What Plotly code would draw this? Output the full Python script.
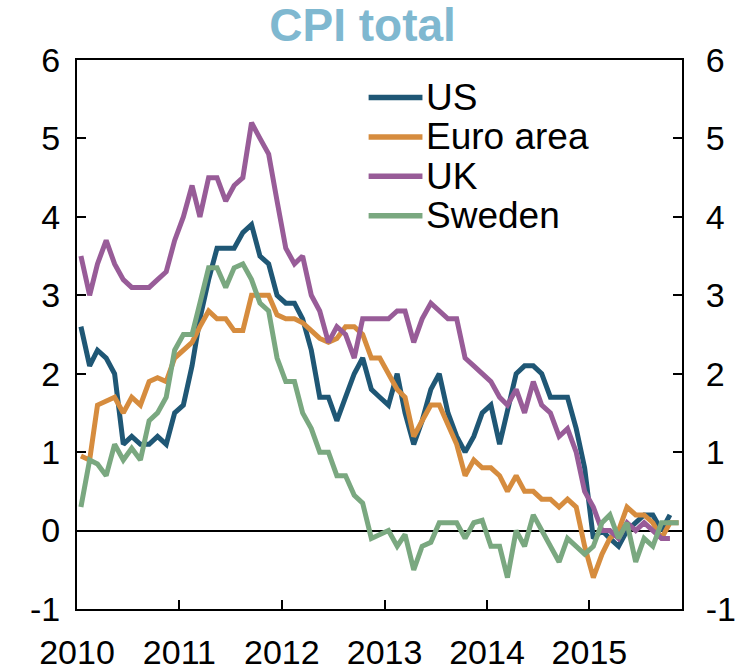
import plotly.graph_objects as go
import pandas as pd

# Monthly observations, Jan 2010 onwards (annual % change)
us = [2.6, 2.1, 2.3, 2.2, 2.0, 1.1, 1.2, 1.1, 1.1, 1.2, 1.1, 1.5,
      1.6, 2.1, 2.7, 3.2, 3.6, 3.6, 3.6, 3.8, 3.9, 3.5, 3.4, 3.0,
      2.9, 2.9, 2.7, 2.3, 1.7, 1.7, 1.4, 1.7, 2.0, 2.2, 1.8, 1.7,
      1.6, 2.0, 1.5, 1.1, 1.4, 1.8, 2.0, 1.5, 1.2, 1.0, 1.2, 1.5,
      1.6, 1.1, 1.5, 2.0, 2.1, 2.1, 2.0, 1.7, 1.7, 1.7, 1.3, 0.8,
      -0.1, 0.0, -0.1, -0.2, 0.0, 0.1, 0.2, 0.2, 0.0, 0.2]
euro_area = [0.95, 0.9, 1.6, 1.65, 1.7, 1.5, 1.7, 1.6, 1.9, 1.95, 1.9, 2.2,
             2.3, 2.4, 2.6, 2.8, 2.7, 2.7, 2.55, 2.55, 3.0, 3.0, 3.0, 2.75,
             2.7, 2.7, 2.65, 2.55, 2.45, 2.4, 2.45, 2.6, 2.6, 2.5, 2.2, 2.2,
             2.0, 1.8, 1.7, 1.2, 1.4, 1.6, 1.6, 1.35, 1.1, 0.7, 0.9, 0.8,
             0.8, 0.7, 0.5, 0.7, 0.5, 0.5, 0.4, 0.4, 0.3, 0.4, 0.3, -0.2,
             -0.6, -0.3, -0.1, 0.0, 0.3, 0.2, 0.2, 0.1, -0.1, 0.1, 0.1]
uk = [3.5, 3.0, 3.4, 3.7, 3.4, 3.2, 3.1, 3.1, 3.1, 3.2, 3.3, 3.7,
      4.0, 4.4, 4.0, 4.5, 4.5, 4.2, 4.4, 4.5, 5.2, 5.0, 4.8, 4.2,
      3.6, 3.4, 3.5, 3.0, 2.8, 2.4, 2.6, 2.5, 2.2, 2.7, 2.7, 2.7,
      2.7, 2.8, 2.8, 2.4, 2.7, 2.9, 2.8, 2.7, 2.7, 2.2, 2.1, 2.0,
      1.9, 1.7, 1.6, 1.8, 1.5, 1.9, 1.6, 1.5, 1.2, 1.3, 1.0, 0.5,
      0.3, 0.0, 0.0, -0.1, 0.1, 0.0, 0.1, 0.0, -0.1, -0.1]
sweden = [0.3, 0.9, 0.85, 0.7, 1.1, 0.9, 1.05, 0.9, 1.4, 1.5, 1.7, 2.3,
          2.5, 2.5, 2.9, 3.35, 3.35, 3.1, 3.35, 3.4, 3.2, 2.9, 2.8, 2.2,
          1.9, 1.9, 1.5, 1.3, 1.0, 1.0, 0.7, 0.7, 0.45, 0.35, -0.1, -0.05,
          0.0, -0.2, -0.05, -0.5, -0.2, -0.15, 0.1, 0.1, 0.1, -0.1, 0.1, 0.13,
          -0.2, -0.2, -0.6, 0.0, -0.2, 0.2, 0.0, -0.2, -0.4, -0.1, -0.2, -0.3,
          -0.2, 0.1, 0.2, -0.1, 0.1, -0.4, -0.1, -0.2, 0.1, 0.1, 0.1]

series_names = ["US", "Euro area", "UK", "Sweden"]
series_values = [us, euro_area, uk, sweden]
colors = ["#1F5775", "#D68C3E", "#985C98", "#7AA880"]

year_ticks = ["2010", "2011", "2012", "2013", "2014", "2015"]
y_ticks = [-1, 0, 1, 2, 3, 4, 5, 6]
y_ticktext = [str(v) for v in y_ticks]  # plain hyphen for negatives

# mid-month dates
max_len = max(len(v) for v in series_values)
dates = pd.date_range("2010-01-01", periods=max_len, freq="MS") + pd.Timedelta(days=14)

FONT = "Liberation Sans, Arial, sans-serif"

fig = go.Figure()
for name, vals, col in zip(series_names, series_values, colors):
    fig.add_trace(go.Scatter(
        x=dates[:len(vals)], y=vals, mode="lines", name=name,
        line=dict(color=col, width=5), showlegend=False))

# helper trace for right-hand axis labels
fig.add_trace(go.Scatter(x=dates[:len(us)], y=us, yaxis="y2", mode="lines",
                         line=dict(width=0, color="rgba(0,0,0,0)"),
                         showlegend=False, hoverinfo="skip"))

# manual legend (line sample + label), placed in paper coordinates
leg_x0, leg_x1, leg_tx = 0.482, 0.571, 0.574
leg_y_top, leg_dy = 0.9315, 0.0717
for k, (name, col) in enumerate(zip(series_names, colors)):
    yy = leg_y_top - k * leg_dy
    fig.add_shape(type="line", xref="paper", yref="paper",
                  x0=leg_x0, x1=leg_x1, y0=yy, y1=yy,
                  line=dict(color=col, width=5.5))
    fig.add_annotation(xref="paper", yref="paper", x=leg_tx, y=yy,
                       xanchor="left", yanchor="middle", text=name,
                       showarrow=False, font=dict(family=FONT, size=37, color="black"))

fig.update_layout(
    width=743, height=670,
    margin=dict(l=77, r=61, t=60, b=61),
    paper_bgcolor="white", plot_bgcolor="white",
    font=dict(family=FONT, size=34, color="black"),
    title=dict(text="<b>CPI total</b>", x=0.488, xanchor="center", y=0.9627, yanchor="middle",
               font=dict(family=FONT, size=46, color="#7FB8D0")),
    showlegend=False,
    xaxis=dict(type="date", range=["2010-01-01", "2015-11-27"],
               tickvals=[f"{y}-01-01" for y in year_ticks], ticktext=year_ticks,
               ticks="inside", ticklen=9, tickwidth=1.5, tickcolor="black",
               showline=True, linecolor="black", linewidth=2, mirror=True,
               showgrid=False, zeroline=False, ticklabelstandoff=12,
               automargin=False, tickfont=dict(size=34)),
    yaxis=dict(range=[-1, 6], tickvals=y_ticks, ticktext=y_ticktext, ticks="inside", ticklen=9,
               tickwidth=1.5, tickcolor="black", showline=True, linecolor="black",
               linewidth=2, showgrid=False, zeroline=True, zerolinecolor="black",
               zerolinewidth=1.5, ticklabelstandoff=8, automargin=False,
               tickfont=dict(size=34)),
    yaxis2=dict(range=[-1, 6], tickvals=y_ticks, ticktext=y_ticktext, overlaying="y", side="right",
                ticks="inside", ticklen=9, tickwidth=1.5, tickcolor="black",
                showline=True, linecolor="black", linewidth=2, showgrid=False,
                zeroline=False, ticklabelstandoff=15, automargin=False,
                tickfont=dict(size=34)),
)

fig.write_html("out.html", config={"displayModeBar": False},
               post_script="document.body.style.margin='0';document.body.style.padding='0';")
